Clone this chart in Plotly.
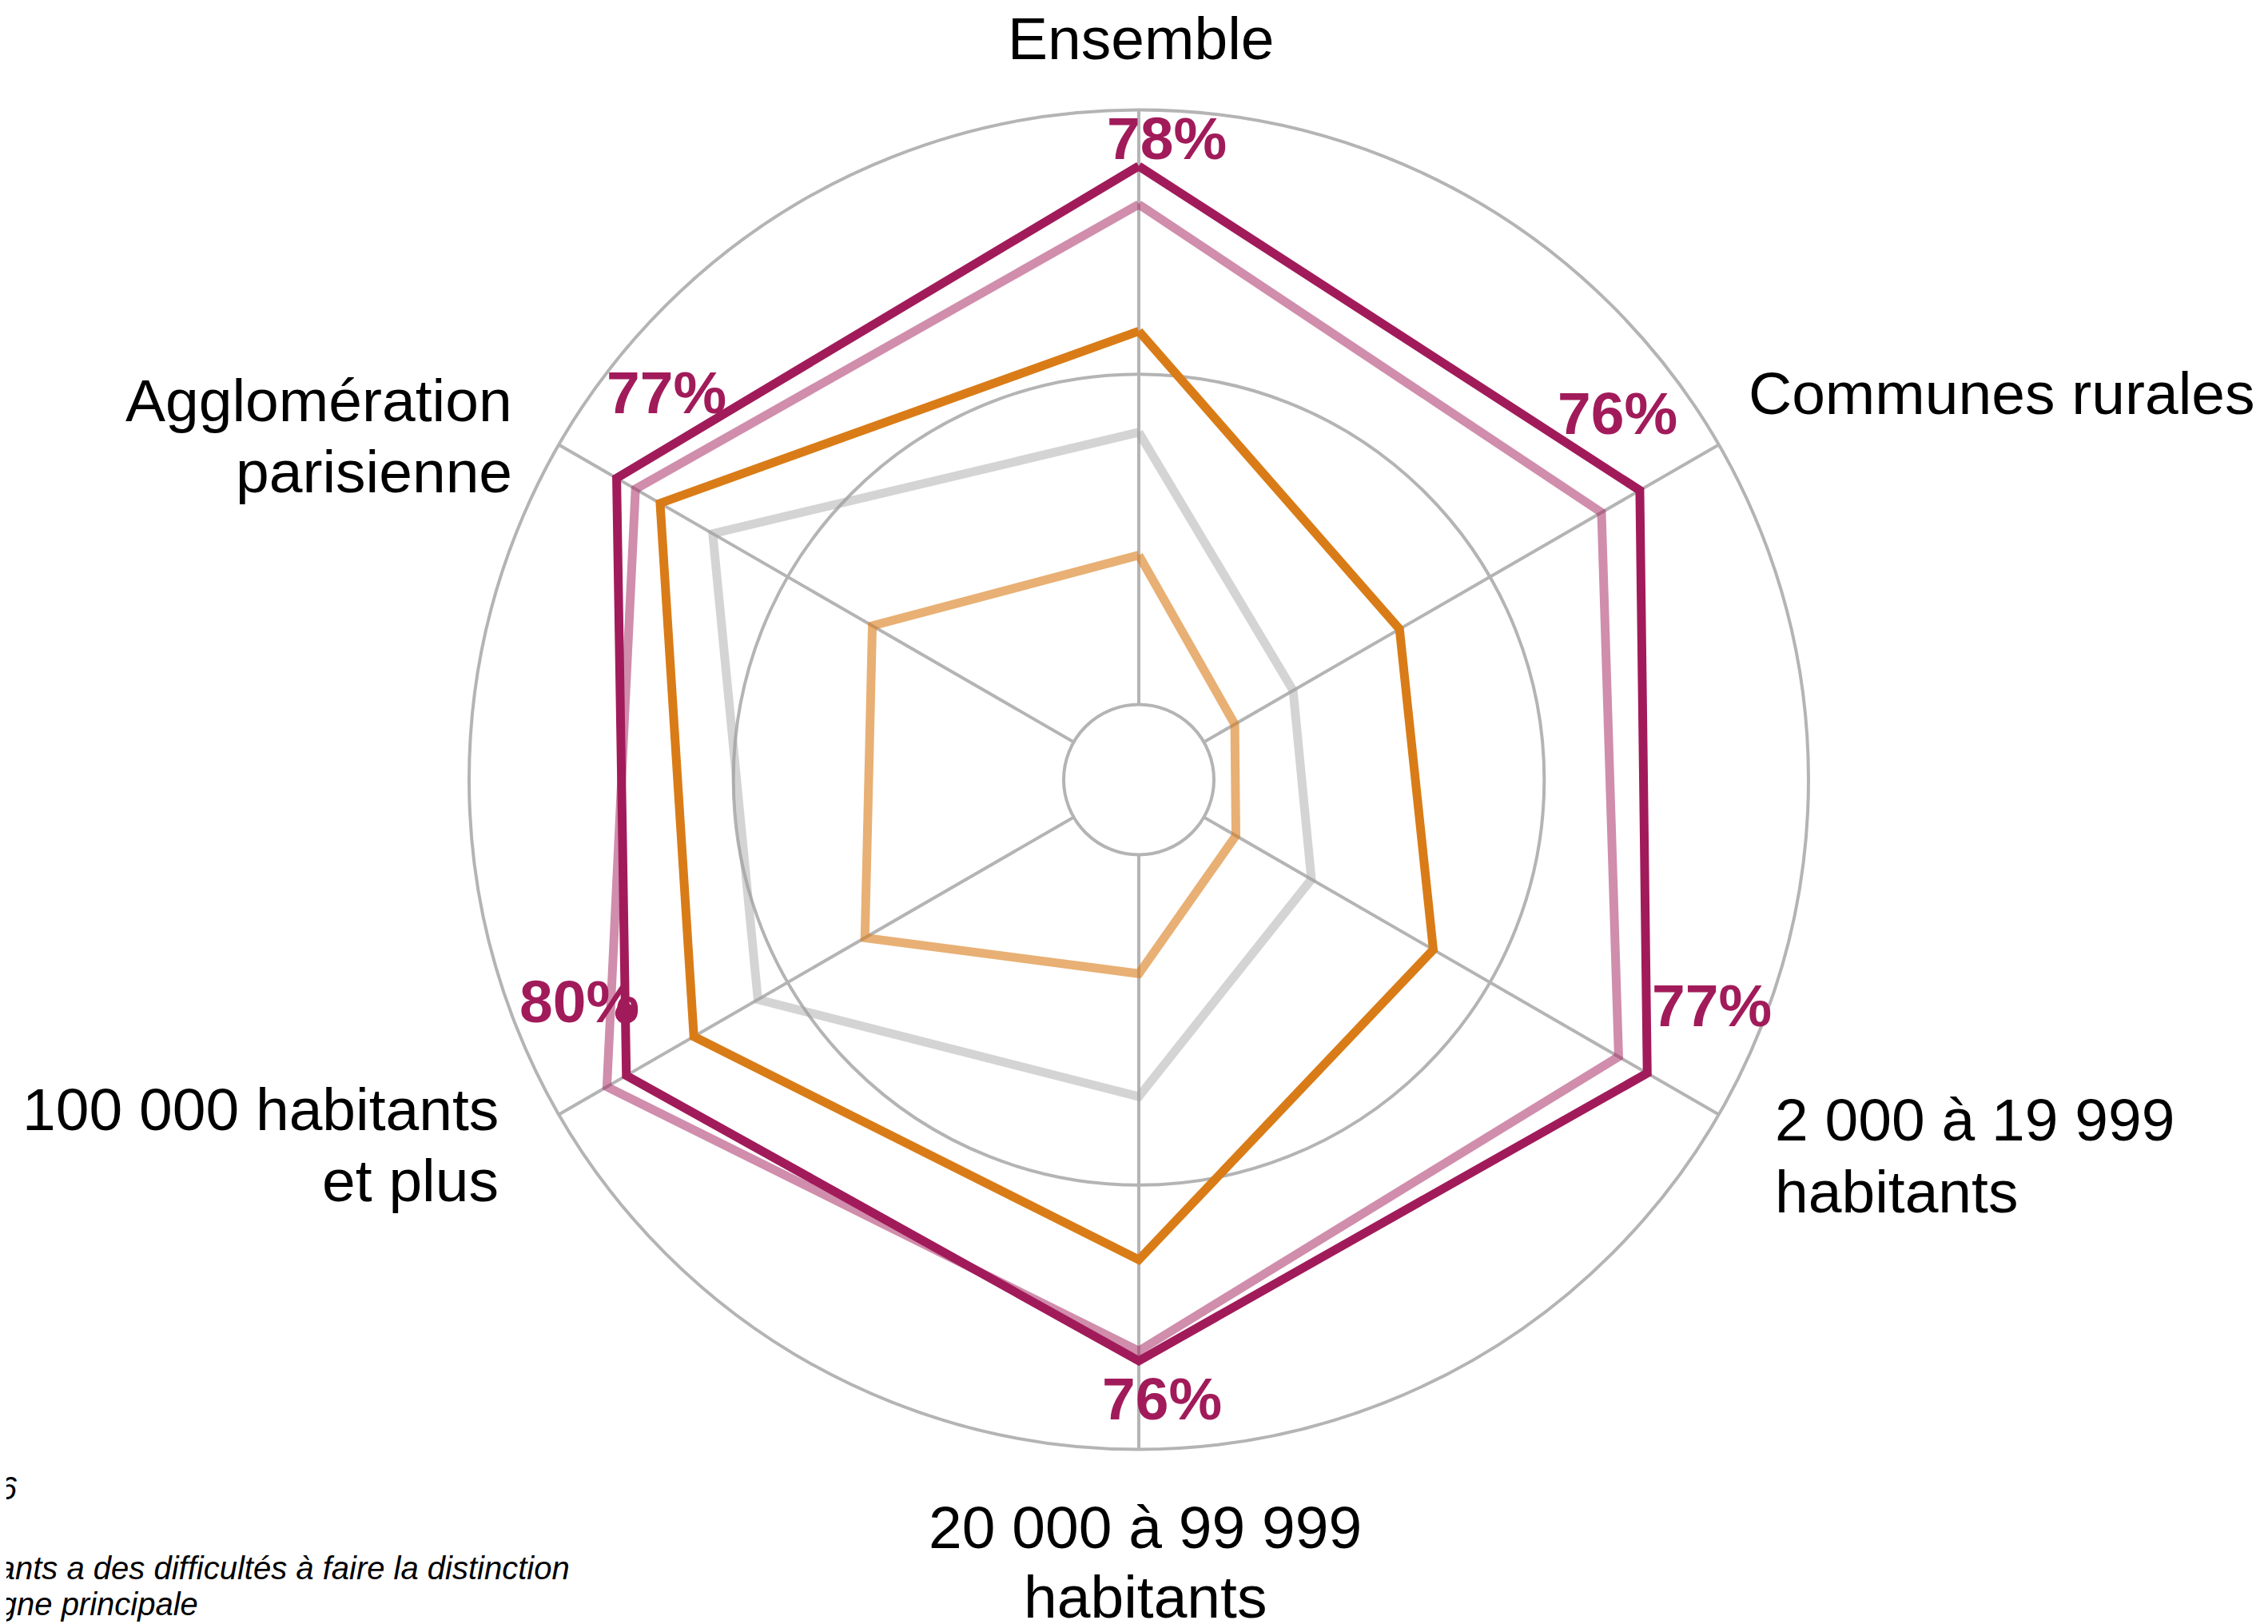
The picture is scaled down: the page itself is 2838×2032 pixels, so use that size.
import plotly.graph_objects as go

# ---- data ----
categories = ["Ensemble", "Communes rurales", "2 000 à 19 999 habitants",
              "20 000 à 99 999 habitants", "100 000 habitants et plus",
              "Agglomération parisienne"]
angles = [0, 60, 120, 180, 240, 300]

serie_principale = [81.5, 76.2, 77.5, 76.6, 78.2, 79.9]
serie_rose = [75.7, 69.5, 72.5, 75.1, 81.6, 76.6]
serie_orange = [56.5, 34.2, 40.1, 61.3, 66.4, 72.3]
serie_grise = [41.2, 15.6, 18.8, 36.6, 55.2, 63.1]
serie_orange_clair = [22.6, 5.4, 5.6, 18.0, 36.5, 35.2]

pct_labels = ["78%", "76%", "77%", "76%", "80%", "77%"]
point_theta = [245.5]
point_r = [74.0]

notes = ["2016",
         "habitants a des difficultés à faire la distinction",
         "ligne principale"]

# ---- figure geometry (pixels) ----
W, H = 2838, 2032
OFF = 8  # page body margin
cx, cy, R = 1425, 975.5, 838


def px(x):
    return (x - OFF) / W


def py(y):
    return 1 - (y - OFF) / H


def closed(v):
    return list(v) + [v[0]]


fig = go.Figure()

series = [
    (serie_orange_clair, "rgba(217,124,23,0.6)"),
    (serie_grise, "rgba(160,160,160,0.45)"),
    (serie_orange, "#D97C17"),
    (serie_rose, "rgba(161,27,90,0.5)"),
    (serie_principale, "#A11B5A"),
]
for vals, col in series:
    fig.add_trace(go.Scatterpolar(
        r=closed(vals), theta=closed(angles), mode="lines",
        line=dict(color=col, width=11), hoverinfo="skip", showlegend=False))

fig.add_trace(go.Scatterpolar(
    r=point_r, theta=point_theta, mode="markers",
    marker=dict(color="#A11B5A", size=26), hoverinfo="skip", showlegend=False))

grid = "#B4B4B4"
fig.update_layout(
    width=W, height=H,
    margin=dict(l=0, r=0, t=0, b=0),
    paper_bgcolor="white",
    showlegend=False,
    polar=dict(
        domain=dict(x=[px(cx - R), px(cx + R)], y=[py(cy + R), py(cy - R)]),
        bgcolor="white",
        hole=94 / 838,
        radialaxis=dict(range=[0, 90], tickvals=[0, 50], showticklabels=False,
                        ticks="", showline=False, gridcolor=grid, gridwidth=4),
        angularaxis=dict(type="linear", thetaunit="degrees", rotation=90,
                         direction="clockwise", tickvals=angles,
                         showticklabels=False, ticks="", showline=True,
                         linecolor=grid, linewidth=4, gridcolor=grid,
                         gridwidth=4),
    ),
)

font_lab = dict(family="Liberation Sans, Arial, sans-serif", size=75, color="black")
font_pct = dict(family="Liberation Sans, Arial, sans-serif", size=75, color="#A11B5A")

# category labels (one annotation per line)
cat_lines = [
    ("Ensemble", 1428, 48, "center"),
    ("Communes rurales", 2186, 492, "left"),
    ("2 000 à 19 999", 2219, 1401, "left"),
    ("habitants", 2219, 1491, "left"),
    ("20 000 à 99 999", 1433, 1911, "center"),
    ("habitants", 1433, 1998, "center"),
    ("100 000 habitants", 626, 1388, "right"),
    ("et plus", 626, 1477, "right"),
    ("Agglomération", 643, 501, "right"),
    ("parisienne", 643, 590, "right"),
]
for txt, x, y, anc in cat_lines:
    fig.add_annotation(text=txt, x=px(x), y=py(y), xref="paper", yref="paper",
                       xanchor=anc, yanchor="middle", showarrow=False,
                       font=font_lab)

pct_pos = [(1460, 173), (2024, 517), (2142, 1258), (1454, 1750), (725, 1253), (834, 491)]
for lab, (x, y) in zip(pct_labels, pct_pos):
    fig.add_annotation(text="<b>" + lab + "</b>", x=px(x), y=py(y), xref="paper",
                       yref="paper", xanchor="center", yanchor="middle",
                       showarrow=False, font=font_pct)

note_font = dict(family="Liberation Sans, Arial, sans-serif", size=40, color="black")
note_pos = [(24, 1862), (715, 1962), (250, 2007)]
for txt, (x, y) in zip(notes, note_pos):
    fig.add_annotation(text="<i>" + txt + "</i>", x=px(x), y=py(y), xref="paper",
                       yref="paper", xanchor="right", yanchor="middle",
                       showarrow=False, font=note_font)

fig.write_html("out.html")
